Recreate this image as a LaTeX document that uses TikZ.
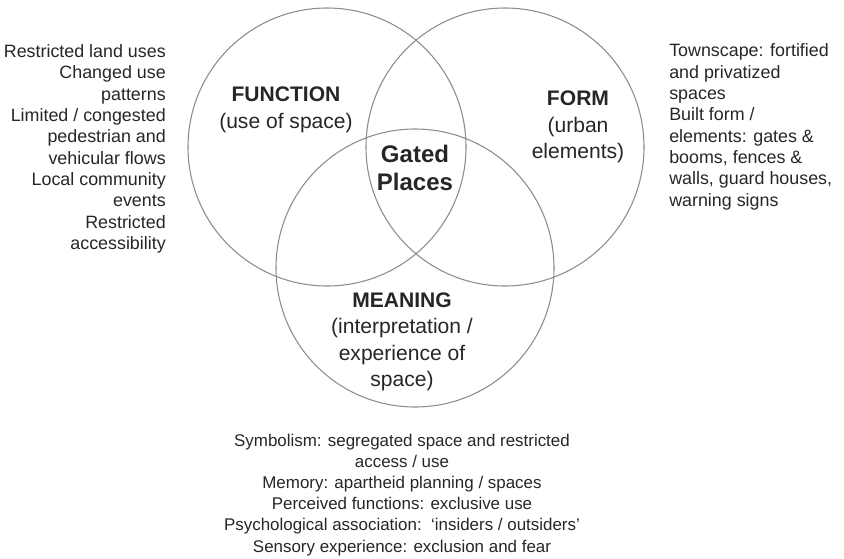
\documentclass[tikz,border=0pt]{standalone}
\usepackage{fontspec}
\setmainfont{Liberation Sans}
\begin{document}
\begin{tikzpicture}[x=0.75pt, y=-0.75pt,
    ring/.style={circle, draw=black!45, line width=0.8pt, minimum size=208.5pt, inner sep=0pt},
    title/.style={align=center, text=black!85, inner sep=0pt, font=\fontsize{15.8}{19.9}\selectfont},
    note/.style={text=black!85, inner sep=0pt, font=\fontsize{13.4}{16}\selectfont}]
    \useasboundingbox (0,0) rectangle (844,558);
    % CERCHI
    \node[ring] (function) at (327,147) {};
    \node[ring] (form) at (505,147) {};
    \node[ring] (meaning) at (415,268) {};

    % ETICHETTE DEI CERCHI
    \node[title] (fnlabel) at (286,110) {\textbf{FUNCTION}\\(use of space)};
    \node[title] (formlabel) at (578,127) {\textbf{FORM}\\(urban\\elements)};
    \node[title] (mnlabel) at (402,342) {\textbf{MEANING}\\(interpretation /\\experience of\\space)};
    \node[title, font=\fontsize{18}{21}\selectfont\bfseries] (core) at (415,168) {Gated\\Places};

    % NOTE
    \node[note, align=right, anchor=east] (fnnote) at (166,149) {Restricted land uses\\Changed use\\patterns\\Limited / congested\\pedestrian and\\vehicular flows\\Local community\\events\\Restricted\\accessibility};
    \node[note, align=left, anchor=west] (formnote) at (669,127) {Townscape: fortified\\and privatized\\spaces\\Built form /\\elements: gates \&\\booms, fences \&\\walls, guard houses,\\warning signs};
    \node[note, align=center, font=\fontsize{12.7}{15.8}\selectfont] (mnnote) at (402,495) {Symbolism: segregated space and restricted\\access / use\\Memory: apartheid planning / spaces\\Perceived functions: exclusive use\\Psychological association:\ \ ‘insiders / outsiders’\\Sensory experience: exclusion and fear};
\end{tikzpicture}
\end{document}
